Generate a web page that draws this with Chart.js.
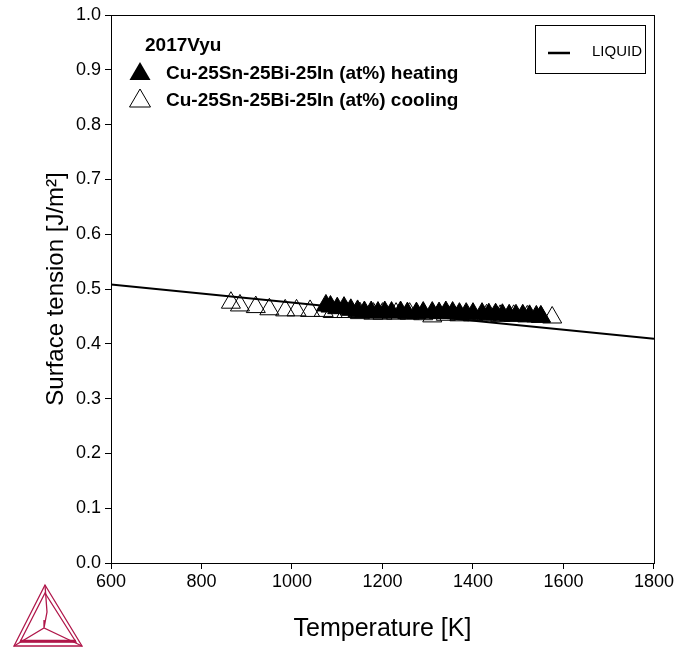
<!DOCTYPE html>
<html>
<head>
<meta charset="utf-8">
<script src="https://cdn.jsdelivr.net/npm/chart.js@4.4.0/dist/chart.umd.min.js"></script>
<style>
  body { margin: 0; background: #fff; }
  #wrap { width: 676px; height: 648px; }
</style>
</head>
<body>
<div id="wrap"><canvas id="chart" width="676" height="648"></canvas></div>
<script>
// Data
const liquidT = [600, 1800];
const liquidSigma = [0.508, 0.409];

const heatingT = [1075, 1085, 1100, 1115, 1130, 1145, 1160, 1175, 1190, 1205, 1220, 1240, 1255, 1275, 1290, 1310, 1325, 1340, 1355, 1370, 1385, 1400, 1420, 1435, 1450, 1465, 1480, 1495, 1510, 1525, 1540, 1550];
const heatingSigma = [0.470, 0.468, 0.465, 0.466, 0.462, 0.460, 0.458, 0.458, 0.457, 0.458, 0.457, 0.458, 0.456, 0.456, 0.457, 0.457, 0.456, 0.458, 0.457, 0.455, 0.455, 0.455, 0.455, 0.454, 0.454, 0.453, 0.452, 0.452, 0.452, 0.451, 0.450, 0.450];

const coolingT = [865, 885, 920, 950, 985, 1010, 1040, 1070, 1090, 1120, 1150, 1180, 1200, 1230, 1260, 1290, 1310, 1340, 1370, 1400, 1430, 1460, 1490, 1520, 1550, 1575];
const coolingSigma = [0.475, 0.470, 0.467, 0.463, 0.461, 0.461, 0.460, 0.460, 0.458, 0.458, 0.456, 0.455, 0.455, 0.455, 0.455, 0.454, 0.450, 0.453, 0.452, 0.452, 0.452, 0.451, 0.451, 0.450, 0.449, 0.448];

const xTicks = [600, 800, 1000, 1200, 1400, 1600, 1800];
const yTicks = [0.0, 0.1, 0.2, 0.3, 0.4, 0.5, 0.6, 0.7, 0.8, 0.9, 1.0];

const toPts = (xs, ys) => xs.map((x, i) => ({ x: x, y: ys[i] }));
const FONT = '"Liberation Sans", Arial, sans-serif';

// frame, legends and logo
const decorations = {
    id: 'decorations',
    afterDraw(chart) {
        const ctx = chart.ctx;
        const a = chart.chartArea;
        ctx.save();
        ctx.strokeStyle = '#000';
        ctx.lineWidth = 1;
        ctx.strokeRect(a.left + 0.5, a.top + 0.5, a.right - a.left, a.bottom - a.top);

        // dataset legend (top left)
        ctx.fillStyle = '#000';
        ctx.font = 'bold 19px ' + FONT;
        ctx.textBaseline = 'middle';
        ctx.fillText('2017Vyu', 145, 46);
        ctx.fillText('Cu-25Sn-25Bi-25In (at%) heating', 166, 74);
        ctx.fillText('Cu-25Sn-25Bi-25In (at%) cooling', 166, 101);
        const tri = (cx, cy, fill) => {
            ctx.beginPath();
            ctx.moveTo(cx, cy - 10);
            ctx.lineTo(cx + 10.5, cy + 8);
            ctx.lineTo(cx - 10.5, cy + 8);
            ctx.closePath();
            if (fill) { ctx.fill(); } else { ctx.lineWidth = 1; ctx.stroke(); }
        };
        tri(140, 72, true);
        tri(140, 99, false);

        // LIQUID legend box
        ctx.lineWidth = 1;
        ctx.strokeRect(535.5, 25.5, 110, 48);
        ctx.lineWidth = 2.5;
        ctx.beginPath();
        ctx.moveTo(548, 53);
        ctx.lineTo(570, 53);
        ctx.stroke();
        ctx.font = '15px ' + FONT;
        ctx.fillText('LIQUID', 592, 52);

        // logo
        ctx.strokeStyle = '#b0174a';
        ctx.lineWidth = 1.3;
        const A = [45, 585], B = [14, 646], C = [82, 646], M = [44, 628];
        ctx.beginPath();
        ctx.moveTo(A[0], A[1]); ctx.lineTo(B[0], B[1]); ctx.lineTo(C[0], C[1]); ctx.closePath();
        ctx.stroke();
        ctx.beginPath();
        ctx.moveTo(45, 593); ctx.lineTo(20, 642); ctx.lineTo(76, 642); ctx.closePath();
        ctx.stroke();
        ctx.beginPath();
        ctx.moveTo(A[0], A[1]); ctx.lineTo(47, 612); ctx.lineTo(M[0], M[1]);
        ctx.moveTo(B[0], B[1]); ctx.lineTo(M[0], M[1]); ctx.lineTo(C[0], C[1]);
        ctx.moveTo(44, 620); ctx.lineTo(M[0], M[1]);
        ctx.stroke();
        ctx.lineWidth = 2.5;
        ctx.beginPath();
        ctx.moveTo(20, 641); ctx.lineTo(76, 641);
        ctx.stroke();
        ctx.restore();
    }
};

new Chart(document.getElementById('chart'), {
    type: 'scatter',
    data: {
        datasets: [
            {
                label: 'LIQUID',
                data: toPts(liquidT, liquidSigma),
                showLine: true,
                borderColor: '#000',
                borderWidth: 2,
                pointRadius: 0,
                order: 3
            },
            {
                label: 'Cu-25Sn-25Bi-25In (at%) cooling',
                data: toPts(coolingT, coolingSigma),
                pointStyle: 'triangle',
                pointRadius: 11,
                backgroundColor: 'rgba(0,0,0,0)',
                borderColor: '#000',
                borderWidth: 1,
                order: 1
            },
            {
                label: 'Cu-25Sn-25Bi-25In (at%) heating',
                data: toPts(heatingT, heatingSigma),
                pointStyle: 'triangle',
                pointRadius: 11,
                backgroundColor: '#000',
                borderColor: '#000',
                borderWidth: 1,
                order: 2
            }
        ]
    },
    options: {
        responsive: false,
        animation: false,
        layout: { padding: { left: 0, right: 22, top: 15, bottom: 0 } },
        plugins: {
            legend: { display: false },
            tooltip: { enabled: false }
        },
        scales: {
            x: {
                type: 'linear',
                min: 600,
                max: 1800,
                afterBuildTicks: (s) => { s.ticks = xTicks.map(v => ({ value: v })); },
                afterFit: (s) => { s.height = 85; },
                ticks: { color: '#000', font: { family: FONT, size: 18 }, padding: 2, callback: (v) => String(v) },
                grid: { drawOnChartArea: false, tickLength: 6, color: '#000' },
                border: { color: '#000', width: 1 },
                title: { display: true, text: 'Temperature [K]', color: '#000', font: { family: FONT, size: 25 }, padding: { top: 6 } }
            },
            y: {
                type: 'linear',
                min: 0,
                max: 1,
                afterBuildTicks: (s) => { s.ticks = yTicks.map(v => ({ value: v })); },
                afterFit: (s) => { s.width = 111; },
                ticks: { color: '#000', font: { family: FONT, size: 18 }, padding: 4, callback: (v) => v.toFixed(1) },
                grid: { drawOnChartArea: false, tickLength: 6, color: '#000' },
                border: { color: '#000', width: 1 },
                title: { display: true, text: 'Surface tension [J/m²]', color: '#000', font: { family: FONT, size: 24 }, padding: { top: 42, bottom: 0 } }
            }
        }
    },
    plugins: [decorations]
});
</script>
</body>
</html>
